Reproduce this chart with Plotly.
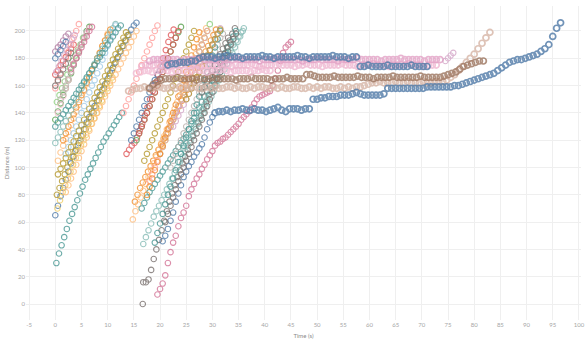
import plotly.graph_objects as go

# ---------------- data (distance in m, sampled every STEP seconds from a start time) ----------------
STEP_STREAK = 0.5
STEP_LONG = 0.75

x_ticks = [-5, 0, 5, 10, 15, 20, 25, 30, 35, 40, 45, 50, 55, 60, 65, 70, 75, 80, 85, 90, 95, 100]
y_ticks = [0, 20, 40, 60, 80, 100, 120, 140, 160, 180, 200]

# group A : runs starting near t = 0
t0_A01 = 0.2
d_A01 = [30, 37, 43, 49, 55, 61, 66, 71, 76, 81, 86, 91, 95, 99, 103, 107, 111, 115, 119, 122, 125, 128, 131, 134, 137, 140]
t0_A02 = 0.0
d_A02 = [65, 72, 79, 85, 91, 97, 103, 108, 113, 118, 123, 128, 133, 137, 141, 145, 149, 153, 157, 161, 165, 169, 173, 177, 181, 185, 189, 193, 197, 201, 204, 206]
t0_A03 = 0.3
d_A03 = [80, 85, 90, 95, 100, 104, 108, 112, 116, 120, 124, 128, 132, 136, 140, 144, 149, 153, 158, 162, 167, 171, 176, 180, 185, 189, 193, 197]
t0_A04 = 0.4
d_A04 = [70, 76, 82, 87, 92, 97, 102, 107, 112, 116, 120, 124, 128, 132, 136, 140, 145, 149, 154, 158, 162, 166]
t0_A05 = 0.5
d_A05 = [105, 111, 116, 121, 126, 131, 136, 141, 146, 151, 156, 161, 166, 171, 175, 180, 184, 189, 193, 198]
t0_A06 = 1.5
d_A06 = [120, 125, 130, 135, 139, 144, 148, 153, 157, 162, 166, 171, 175, 180, 184, 189, 193, 197, 201]
t0_A07 = 0.0
d_A07 = [135, 141, 147, 153, 158, 164, 169, 175, 180, 185, 190, 195, 200, 203]
t0_A08 = 0.3
d_A08 = [148, 153, 158, 163, 168, 173, 178, 182, 186, 190, 195]
t0_A09 = 0.0
d_A09 = [168, 171, 175, 178, 181, 184, 187, 190]
t0_A10 = 0.0
d_A10 = [158, 163, 169, 175, 180, 185, 190, 195, 200, 205]
t0_A11 = 2.0
d_A11 = [110, 115, 120, 125, 130, 135, 140, 145, 150, 155, 160, 164, 169, 174, 179, 184, 189, 194, 199, 204]
t0_A12 = 0.0
d_A12 = [118, 122, 126, 130, 134, 138, 142, 146, 150, 154, 158, 162, 165, 169, 172, 176, 180, 183, 187, 191, 195, 199, 202, 205]
t0_A13 = 0.0
d_A13 = [185, 188, 190, 193, 196, 198]
t0_A14 = 0.0
d_A14 = [180, 183, 186, 189, 192]
t0_A15 = 0.0
d_A15 = [160, 164, 168, 172, 176, 180, 184]
t0_A16 = 0.5
d_A16 = [140, 146, 152, 158, 164, 170, 176, 181, 186, 190, 194, 198, 202]
t0_A17 = 0.0
d_A17 = [130, 133, 136, 139, 142, 145, 148, 151, 154, 157, 160, 163, 166, 169, 172, 175, 178, 181, 184, 187, 190, 193, 196, 199, 202, 204]
t0_A18 = 1.0
d_A18 = [150, 155, 160, 165, 170, 175, 180, 185, 190, 195, 199]
t0_A19 = 0.5
d_A19 = [95, 99, 103, 107, 111, 115, 119, 123, 127, 131, 135, 139, 143, 147, 151, 155, 159, 163, 167, 171, 175, 179, 183, 187, 191, 195, 199]
t0_A20 = 2.0
d_A20 = [82, 87, 92, 97, 102, 107, 112, 117, 122, 127, 132, 136, 140, 144, 148, 152, 156, 160, 164, 168, 172, 176, 180, 184, 188, 192, 196, 200]
t0_A21 = 0.2
d_A21 = [170, 174, 178, 182, 186, 190, 194, 197]
t0_A22 = 3.0
d_A22 = [172, 176, 180, 184, 188, 192, 196, 200, 203]

# group B : runs starting around t = 13..28
t0_B00 = 16.7
d_B00 = [0]
t0_B01 = 16.8
d_B01 = [16, 16, 18, 25, 33, 40, 47, 54, 61, 68, 75, 81, 87, 93, 98, 103, 108, 113, 118, 123, 128, 133, 138, 143, 148, 153, 158, 163, 168, 173, 178, 183, 188, 193, 198, 202]
t0_B02 = 16.8
d_B02 = [44, 49, 54, 59, 64, 68, 72, 76, 80, 84, 88, 92, 96, 100, 104, 108, 112, 116, 120, 124, 128, 132, 136, 140, 144, 148, 152, 156, 160, 164, 168, 172, 176, 180, 184, 188, 192, 196, 200]
t0_B03 = 15.2
d_B03 = [75, 80, 85, 89, 93, 97, 101, 105, 109, 113, 117, 121, 125, 129, 133, 137, 141, 145, 149, 153, 157, 161, 165, 169, 173, 177, 181, 185, 189, 193, 197, 201]
t0_B04 = 14.8
d_B04 = [62, 68, 73, 78, 83, 88, 93, 98, 103, 108, 113, 118, 123, 128, 133, 138, 143, 148, 153, 158, 163, 168, 173, 178, 183, 188, 193, 198, 202]
t0_B05 = 13.6
d_B05 = [110, 113, 116, 118, 122, 127, 132, 138, 144, 150, 156, 162, 168, 174, 180, 186, 192, 197, 201]
t0_B06 = 16.5
d_B06 = [70, 74, 78, 82, 85, 88, 91, 94, 97, 100, 103, 106, 109, 112, 115, 118, 121, 124, 128, 132, 136, 140, 144, 148, 152, 156, 160, 164, 168, 172, 176, 180, 184, 188, 192, 196, 200]
t0_B07 = 20.5
d_B07 = [46, 50, 55, 61, 67, 75, 81, 87, 93, 97, 101, 104, 108, 111, 114, 117, 122, 128, 133, 137]
t0_B08 = 19.5
d_B08 = [7, 11, 15, 21, 30, 38, 45, 50, 57, 63, 67, 72, 79, 84, 88, 92, 95, 99, 102, 106, 109, 112, 116, 118, 119, 121, 122, 124, 126, 128, 130, 132, 135, 137, 139, 141, 144, 147, 150, 152, 153, 154, 155, 156, 160, 165, 171, 178, 184, 188, 190, 192]
t0_B09 = 13.0
d_B09 = [140, 145, 150, 155, 160, 165, 170, 175, 180, 185, 190, 195, 200, 204]
t0_B10 = 15.5
d_B10 = [120, 125, 130, 135, 140, 145, 150, 155, 160, 165, 170, 175, 180, 185, 190, 195, 199, 203]
t0_B11 = 17.0
d_B11 = [105, 110, 115, 120, 125, 130, 135, 140, 145, 150, 155, 160, 165, 170, 175, 180, 185, 190, 195, 200]
t0_B12 = 20.0
d_B12 = [110, 115, 120, 125, 130, 135, 140, 145, 150, 155, 160, 165, 170, 175, 180, 185, 190, 195, 200, 205]
t0_B13 = 22.0
d_B13 = [100, 105, 110, 115, 120, 125, 130, 135, 140, 145, 150, 155, 160, 165, 170, 175, 180, 185, 190, 195, 198]
t0_B14 = 24.0
d_B14 = [110, 114, 118, 122, 126, 130, 134, 138, 142, 146, 150, 154, 158, 162, 166, 170, 174, 178, 182, 186, 190, 193, 196, 199, 202]
t0_B15 = 18.0
d_B15 = [90, 95, 100, 105, 110, 115, 120, 125, 130, 135, 140, 145, 150, 155, 160, 165, 170, 175, 180, 185, 190, 195, 200]
t0_B16 = 17.5
d_B16 = [80, 86, 92, 98, 104, 110, 116, 122, 128, 134, 140, 146, 152, 158, 164, 170, 176, 182, 188, 194, 199]
t0_B17 = 14.5
d_B17 = [120, 125, 130, 135, 140, 145, 150, 155, 160, 164, 168, 171, 174, 176]
t0_B18 = 16.0
d_B18 = [125, 130, 135, 140, 145, 150, 155, 160, 165, 170, 175, 180, 185, 190, 195, 200]
t0_B20 = 21.0
d_B20 = [60, 66, 72, 78, 84, 90, 95, 100, 105, 110, 115, 120, 125, 130, 135, 140, 145, 150, 155, 160, 165, 170, 175, 180, 185, 190, 194, 198]
t0_B21 = 19.0
d_B21 = [45, 52, 59, 66, 73, 80, 86, 92, 98, 104, 110, 116, 122, 128, 134, 140, 146, 152, 158, 164, 170, 176, 182, 188, 194, 200]
t0_B22 = 22.5
d_B22 = [130, 134, 138, 142, 146, 150, 154, 158, 162, 166, 170, 174, 178, 182, 186, 190, 194, 198, 202]
t0_B23 = 25.0
d_B23 = [150, 154, 158, 162, 166, 170, 174, 178, 182, 186, 190, 194, 198, 201]
t0_B24 = 28.0
d_B24 = [155, 159, 163, 167, 171, 175, 179, 183, 187, 191, 195]

# long runs (sampled every STEP_LONG s)
t0_L1 = 30.5
d_L1 = [140, 141, 141, 142, 141, 142, 142, 143, 142, 142, 143, 142, 142, 141, 142, 143, 144, 142, 141, 143, 143, 143, 142, 143, 143,
        150, 150, 151, 151, 152, 152, 152, 153, 153, 153, 154, 155, 154, 153, 153, 153, 153, 153, 154,
        158, 158, 158, 158, 158, 158, 158, 158, 158, 158, 159, 159, 159, 159, 159, 159, 159, 160, 160, 161,
        162, 163, 164, 165, 166, 167, 168, 169, 171, 173, 175, 177, 178, 179, 179, 180, 181, 182, 183, 185, 187, 190,
        196, 202, 206]
t0_L2 = 21.5
d_L2 = [175, 176, 176, 177, 177, 177, 178, 178,
        180, 181, 181, 181, 180, 181, 181, 182, 181, 181, 181, 180, 181, 181, 181, 181, 182, 181, 181, 180, 181,
        181, 181, 181, 181, 182, 181, 181, 180, 181, 181, 181, 181, 181, 182, 181, 181, 181, 180, 181, 181,
        174, 174, 175, 174, 174, 174, 174, 175, 174, 174, 174, 174, 174, 175, 174, 174, 174, 174]
t0_L4 = 18.0
d_L4 = [178, 179, 179, 179, 180, 179, 179, 179, 178, 179, 179, 179, 179, 180, 179, 179, 179, 179, 178, 179,
        179, 179, 180, 179, 179, 179, 179, 179, 178, 179, 179, 179, 180, 179, 179, 179, 179, 179, 179, 178,
        179, 179, 179, 180, 179, 179, 179, 179, 178, 179, 179, 179, 179, 180, 179, 179, 179, 179, 179, 178,
        179, 179, 179, 179, 180, 179, 179, 179, 179, 179, 178, 179, 179, 179, 179]
t0_L4E = 74.5
d_L4E = [178, 180, 182, 184]
t0_L5 = 16.5
d_L5 = [174, 175, 175, 175, 176, 175, 175, 174, 175, 175, 175, 176, 175, 175, 175, 174, 175, 175, 175, 175,
        176, 175, 175, 174, 175, 175, 175, 175, 176, 175, 174, 175, 175, 175, 175, 176, 175, 175, 175, 174,
        175, 175, 176, 175, 175, 175, 174, 175, 175, 175, 175, 176, 175, 175, 175, 174, 175, 175, 175, 176,
        175, 175, 175, 174, 175, 175, 175, 175, 176, 175, 175, 175, 174, 175, 175, 175]
t0_L6 = 15.5
d_L6 = [169, 170, 171, 171, 170, 171, 171, 172, 171, 170, 171, 171, 171, 170, 171, 172, 171, 171, 170, 171,
        171, 171, 172, 171, 170, 171, 171, 171, 171, 170, 171, 171, 172, 171, 171]
t0_L7 = 18.0
d_L7 = [158, 161, 163, 164,
        165, 165, 165, 166, 165, 165, 165, 165, 164, 165, 165, 165, 166, 165, 165, 165, 165, 165, 164, 165,
        165, 165, 166, 165, 165, 165, 165, 164, 165, 165, 165, 166, 165, 165, 165, 165, 168,
        168, 167, 166, 166, 166, 166, 167, 166, 166, 166, 166, 166, 167, 166, 166, 166, 165, 166, 166, 166,
        166, 167, 166, 166, 166, 166, 166, 166, 167, 166, 166, 166,
        166, 166, 167, 168, 169, 170, 172, 174, 175, 176, 177, 178, 178]
t0_L8 = 14.0
d_L8 = [156, 157, 158,
        158, 159, 158, 158, 159, 159, 158, 158, 159, 158, 159, 158, 158, 159, 159, 158, 158, 159, 158, 159,
        158, 158, 159, 159, 158, 159, 158, 158, 159, 158, 159, 159, 158, 158, 159, 158, 159, 158, 158, 159,
        159, 158, 158, 159, 158, 159, 158, 159, 159, 158, 158, 159, 158, 159, 158, 159, 159, 160,
        161, 162, 162, 163, 162, 162, 162, 163, 162, 162, 163, 162, 162, 162, 163, 162, 162, 163,
        163, 163, 164, 166, 168, 171, 174, 177, 180, 183, 187, 191, 195, 199]

# ---------------- styling ----------------
TAB = {
    "blue": "#4e79a7", "lblue": "#a0cbe8", "orange": "#f28e2b", "lorange": "#ffbe7d",
    "green": "#59a14f", "lgreen": "#8cd17d", "olive": "#b6992d", "yellow": "#f1ce63",
    "teal": "#499894", "lteal": "#86bcb6", "red": "#e15759", "lred": "#ff9d9a",
    "gray": "#79706e", "lgray": "#bab0ac", "pink": "#d37295", "lpink": "#fabfd2",
    "purple": "#b07aa1", "lpurple": "#d4a6c8", "brown": "#9c755f", "tan": "#d7b5a6",
    "band1": "#e3a2c6", "band2": "#efb6d0", "band3": "#f2bcd4",
}

SERIES = [
    (t0_A01, STEP_STREAK, d_A01, "teal"), (t0_A02, STEP_STREAK, d_A02, "blue"),
    (t0_A03, STEP_STREAK, d_A03, "olive"), (t0_A04, STEP_STREAK, d_A04, "yellow"),
    (t0_A05, STEP_STREAK, d_A05, "lorange"), (t0_A06, STEP_STREAK, d_A06, "orange"),
    (t0_A07, STEP_STREAK, d_A07, "green"), (t0_A08, STEP_STREAK, d_A08, "lgreen"),
    (t0_A09, STEP_STREAK, d_A09, "red"), (t0_A10, STEP_STREAK, d_A10, "lred"),
    (t0_A11, STEP_STREAK, d_A11, "lblue"), (t0_A12, STEP_STREAK, d_A12, "lteal"),
    (t0_A13, STEP_STREAK, d_A13, "purple"), (t0_A14, STEP_STREAK, d_A14, "blue"),
    (t0_A15, STEP_STREAK, d_A15, "gray"), (t0_A16, STEP_STREAK, d_A16, "lpink"),
    (t0_A17, STEP_STREAK, d_A17, "teal"), (t0_A18, STEP_STREAK, d_A18, "lgray"),
    (t0_A19, STEP_STREAK, d_A19, "olive"), (t0_A20, STEP_STREAK, d_A20, "lorange"),
    (t0_A21, STEP_STREAK, d_A21, "lpurple"), (t0_A22, STEP_STREAK, d_A22, "pink"),
    (t0_B00, STEP_STREAK, d_B00, "gray"), (t0_B01, STEP_STREAK, d_B01, "gray"),
    (t0_B02, STEP_STREAK, d_B02, "lteal"), (t0_B03, STEP_STREAK, d_B03, "orange"),
    (t0_B04, STEP_STREAK, d_B04, "lorange"), (t0_B05, STEP_STREAK, d_B05, "red"),
    (t0_B06, STEP_STREAK, d_B06, "teal"), (t0_B07, STEP_STREAK, d_B07, "blue"),
    (t0_B08, STEP_STREAK, d_B08, "pink"), (t0_B09, STEP_STREAK, d_B09, "lred"),
    (t0_B10, STEP_STREAK, d_B10, "green"), (t0_B11, STEP_STREAK, d_B11, "olive"),
    (t0_B12, STEP_STREAK, d_B12, "lgreen"), (t0_B13, STEP_STREAK, d_B13, "lgray"),
    (t0_B14, STEP_STREAK, d_B14, "lteal"), (t0_B15, STEP_STREAK, d_B15, "lred"),
    (t0_B16, STEP_STREAK, d_B16, "orange"), (t0_B17, STEP_STREAK, d_B17, "blue"),
    (t0_B18, STEP_STREAK, d_B18, "red"), (t0_B20, STEP_STREAK, d_B20, "gray"),
    (t0_B21, STEP_STREAK, d_B21, "teal"), (t0_B22, STEP_STREAK, d_B22, "lpurple"),
    (t0_B23, STEP_STREAK, d_B23, "olive"), (t0_B24, STEP_STREAK, d_B24, "gray"),
    (t0_L8, STEP_LONG, d_L8, "tan"), (t0_L7, STEP_LONG, d_L7, "brown"),
    (t0_L6, STEP_LONG, d_L6, "band3"), (t0_L5, STEP_LONG, d_L5, "band2"),
    (t0_L4, STEP_LONG, d_L4, "band1"), (t0_L4E, STEP_STREAK, d_L4E, "lpurple"),
    (t0_L2, STEP_LONG, d_L2, "blue"), (t0_L1, STEP_LONG, d_L1, "blue"),
]

fig = go.Figure()
for t0, step, dist, cname in SERIES:
    times = [round(t0 + step * i, 3) for i in range(len(dist))]
    is_long = step == STEP_LONG
    fig.add_trace(go.Scatter(
        x=times, y=dist, mode="markers", showlegend=False, hoverinfo="skip",
        opacity=0.8,
        marker=dict(symbol="circle-open", size=6 if is_long else 5.5, color=TAB[cname],
                    line=dict(width=1.7 if is_long else 1.1)),
    ))

FONT = "Lato, 'Open Sans', sans-serif"
fig.update_layout(
    width=585, height=341,
    margin=dict(l=26, r=4, t=6, b=21),
    paper_bgcolor="white", plot_bgcolor="white",
    font=dict(family=FONT, size=6, color="#a6a6a6"),
)
fig.update_xaxes(
    range=[-5.6, 100.4], tickmode="array", tickvals=x_ticks, ticktext=[str(v) for v in x_ticks],
    showgrid=True, gridcolor="#efefef", gridwidth=1, zeroline=False, showline=False, ticks="",
    tickfont=dict(size=6, color="#a6a6a6"), ticklabeloverflow="allow",
    title=dict(text="Time (s)", font=dict(size=6, color="#8a8a8a"), standoff=6),
    automargin=False,
)
fig.update_yaxes(
    range=[-11.7, 218.3], tickmode="array", tickvals=y_ticks, ticktext=[str(v) for v in y_ticks],
    showgrid=True, gridcolor="#efefef", gridwidth=1, zeroline=False, showline=False, ticks="",
    tickfont=dict(size=6, color="#a6a6a6"),
    title=dict(text="Distance (m)", font=dict(size=6, color="#8a8a8a"), standoff=4),
    automargin=False,
)
PAGE_CSS = ("document.documentElement.style.overflow='hidden';"
            "document.body.style.overflow='hidden';"
            "document.body.style.margin='0';document.body.style.padding='0';")
fig.write_html("out.html", config={"displayModeBar": False}, post_script=PAGE_CSS)
